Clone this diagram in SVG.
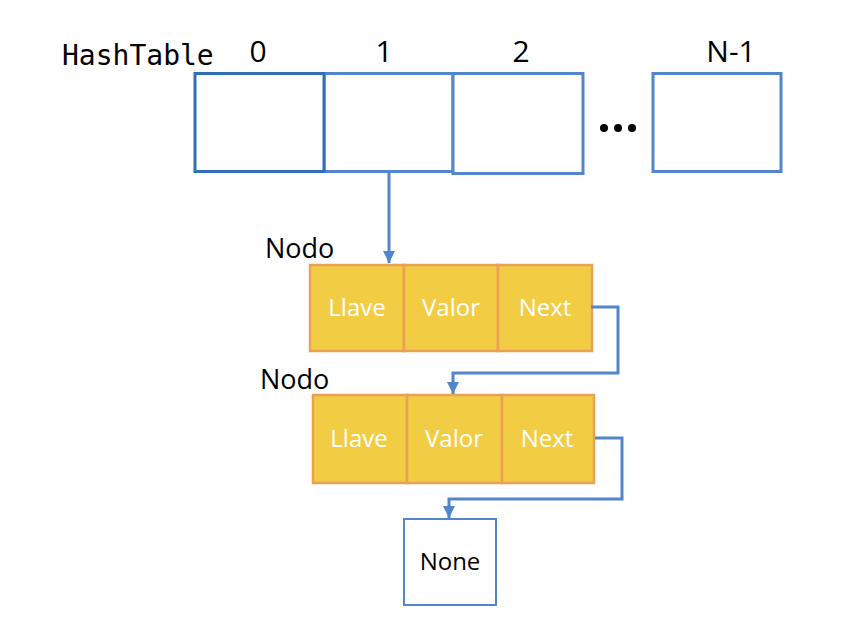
<svg xmlns="http://www.w3.org/2000/svg" width="856" height="626" viewBox="0 0 856 626">
<defs>
<style>
.cell{fill:#fff;stroke:#5285CB;stroke-width:3}
.idx{font-family:"Open Sans","Liberation Sans",sans-serif;font-size:30px;fill:#000;text-anchor:middle}
.field{fill:#F2CD44;stroke:#E9A157;stroke-width:2.5}
.ftxt{font-family:"Open Sans","Liberation Sans",sans-serif;font-size:24px;fill:#fff;text-anchor:middle}
.lbl{font-family:"Open Sans","Liberation Sans",sans-serif;font-size:27px;fill:#000}
.conn{fill:none;stroke:#5285CB;stroke-width:3}
</style>
<marker id="ah" viewBox="0 0 10 10" refX="10" refY="5" markerWidth="4" markerHeight="4" markerUnits="strokeWidth" orient="auto">
<path d="M0,0 L10,5 L0,10 z" fill="#5285CB"/>
</marker>
</defs>
<rect width="856" height="626" fill="#fff"/>
<g id="hashtable">
<text x="62" y="65" font-family="DejaVu Sans Mono,monospace" font-size="28" fill="#000">HashTable</text>
<text class="idx" x="258" y="62">0</text>
<text class="idx" x="384" y="62">1</text>
<text class="idx" x="521" y="62">2</text>
<text class="idx" x="731" y="62">N-1</text>
<rect class="cell" x="324" y="73.5" width="129" height="98"/>
<rect class="cell" x="453" y="73.5" width="130" height="100"/>
<rect x="195" y="73.5" width="129" height="98" fill="#fff" stroke="#2F70B8" stroke-width="3"/>
<rect class="cell" x="653" y="73.5" width="128" height="98"/>
<circle cx="604" cy="128" r="4" fill="#000"/>
<circle cx="618" cy="128" r="4" fill="#000"/>
<circle cx="632" cy="128" r="4" fill="#000"/>
</g>
<g id="nodo1">
<text class="lbl" x="265" y="258">Nodo</text>
<rect class="field" x="310" y="265" width="94" height="86"/>
<rect class="field" x="404" y="265" width="94" height="86"/>
<rect class="field" x="498" y="265" width="94" height="86"/>
<text class="ftxt" x="357" y="316">Llave</text>
<text class="ftxt" x="451" y="316">Valor</text>
<text class="ftxt" x="545" y="316">Next</text>
</g>
<g id="nodo2">
<text class="lbl" x="260" y="389">Nodo</text>
<rect class="field" x="313" y="395" width="94" height="88"/>
<rect class="field" x="407" y="395" width="95" height="88"/>
<rect class="field" x="502" y="395" width="92" height="88"/>
<text class="ftxt" x="359" y="447">Llave</text>
<text class="ftxt" x="454" y="447">Valor</text>
<text class="ftxt" x="547" y="447">Next</text>
</g>
<g id="none">
<rect x="404" y="519" width="92" height="86" fill="#fff" stroke="#5285CB" stroke-width="2"/>
<text x="450" y="570" font-family="Open Sans,Liberation Sans,sans-serif" font-size="24" fill="#000" text-anchor="middle">None</text>
</g>
<g id="connectors">
<path class="conn" d="M389,172 V263" marker-end="url(#ah)"/>
<path class="conn" d="M591,307 H618 V373 H453 V394" marker-end="url(#ah)"/>
<path class="conn" d="M595,438 H622 V499 H449 V518" marker-end="url(#ah)"/>
</g>
</svg>
